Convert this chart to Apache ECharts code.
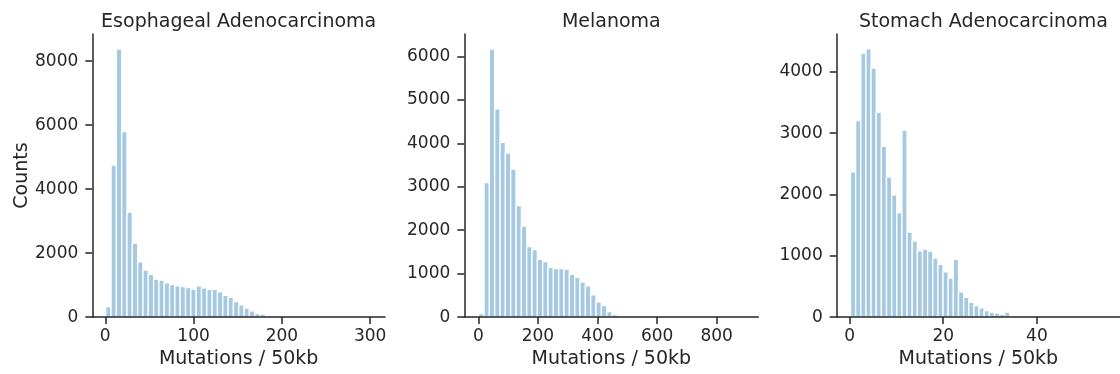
<!DOCTYPE html>
<html>
<head>
<meta charset="utf-8">
<script src="https://cdn.jsdelivr.net/npm/echarts@6/dist/echarts.min.js"></script>
<style>
  html, body { margin: 0; padding: 0; background: #fff; }
  #chart { width: 1120px; height: 374px; }
</style>
</head>
<body>
<div id="chart"></div>
<script>
// ---- Data ----
const panelTitles = ['Esophageal Adenocarcinoma', 'Melanoma', 'Stomach Adenocarcinoma'];
const xAxisLabel = 'Mutations / 50kb';
const yAxisLabel = 'Counts';

// Histogram bin layout (50 bins each): first edge and bin width
const escaBinStart = 0.5,  escaBinWidth = 6.026;
const melaBinStart = 1.3,  melaBinWidth = 17.9;
const stadBinStart = 0.2,  stadBinWidth = 1.098;

// Counts per bin
const escaCounts = [330, 4750, 8380, 5800, 3280, 2310, 1730, 1470, 1340, 1180,
                    1160, 1070, 1015, 975, 955, 925, 875, 975, 915, 865,
                    865, 790, 680, 615, 485, 380, 278, 195, 113, 92,
                    14, 10, 8, 6, 5, 4, 3, 3, 2, 2,
                    1, 1, 1, 1, 0, 0, 1, 0, 0, 1];
const melaCounts = [83, 3094, 6166, 4792, 4023, 3774, 3404, 2566, 2091, 1623,
                    1555, 1328, 1275, 1147, 1117, 1117, 1102, 981, 913, 808,
                    717, 513, 347, 264, 128, 60, 12, 8, 5, 4,
                    3, 2, 2, 1, 1, 1, 1, 0, 1, 0,
                    0, 1, 0, 0, 0, 1, 0, 0, 0, 1];
const stadCounts = [2369, 3203, 4305, 4374, 4059, 3337, 2786, 2283, 1995, 1701,
                    3048, 1385, 1241, 1080, 1107, 1075, 963, 861, 738, 636,
                    941, 412, 321, 241, 187, 150, 107, 80, 64, 43,
                    80, 12, 9, 7, 5, 4, 3, 3, 2, 2,
                    1, 1, 1, 1, 1, 0, 1, 0, 0, 1];

// Axis ticks
const escaXTicks = [0, 100, 200, 300];
const melaXTicks = [0, 200, 400, 600, 800];
const stadXTicks = [0, 20, 40];
const escaYTicks = [0, 2000, 4000, 6000, 8000];
const melaYTicks = [0, 1000, 2000, 3000, 4000, 5000, 6000];
const stadYTicks = [0, 1000, 2000, 3000, 4000];

// ---- Build chart ----
function toBins(start, width, counts) {
  return counts.map((c, i) => [start + i * width, start + (i + 1) * width, c]);
}

const TEXT = '#262626';
const FONT = 'DejaVu Sans';
const BAR = '#a5c9e1';
const plain = v => String(v);

const panels = [
  { bins: toBins(escaBinStart, escaBinWidth, escaCounts), xMin: -14.7, xMax: 316.8, yMax: 8852,
    xTicks: escaXTicks, yTicks: escaYTicks, left: 92.3, width: 292.7 },
  { bins: toBins(melaBinStart, melaBinWidth, melaCounts), xMin: -47, xMax: 939.6, yMax: 6514,
    xTicks: melaXTicks, yTicks: melaYTicks, left: 464.3, width: 294 },
  { bins: toBins(stadBinStart, stadBinWidth, stadCounts), xMin: -2.75, xMax: 57.75, yMax: 4616,
    xTicks: stadXTicks, yTicks: stadYTicks, left: 836.7, width: 293.4 }
];

const gridTop = 34, gridBottomY = 321.7;

const option = {
  backgroundColor: '#fff',
  animation: false,
  title: panels.map((p, i) => ({
    text: panelTitles[i],
    left: p.left + p.width / 2 - 5,
    top: 8,
    textAlign: 'center',
    textStyle: { color: TEXT, fontFamily: FONT, fontSize: 19, fontWeight: 'normal' }
  })),
  grid: panels.map(p => ({
    left: p.left, width: p.width, top: gridTop, height: gridBottomY - gridTop, containLabel: false
  })),
  xAxis: panels.map((p, i) => ({
    type: 'value', gridIndex: i, min: p.xMin, max: p.xMax, z: 5,
    name: xAxisLabel, nameLocation: 'middle', nameGap: 31,
    nameTextStyle: { color: TEXT, fontFamily: FONT, fontSize: 19, verticalAlign: 'top' },
    splitLine: { show: false },
    axisLine: { show: true, onZero: false, lineStyle: { color: TEXT, width: 1.5 } },
    axisTick: { show: true, length: 7, lineStyle: { color: TEXT, width: 1.5 }, customValues: p.xTicks },
    axisLabel: { color: TEXT, fontFamily: FONT, fontSize: 17, margin: 11, customValues: p.xTicks, formatter: plain }
  })),
  yAxis: panels.map((p, i) => ({
    type: 'value', gridIndex: i, min: 0, max: p.yMax, z: 5,
    name: i === 0 ? yAxisLabel : '', nameLocation: 'middle', nameGap: 57,
    nameTextStyle: { color: TEXT, fontFamily: FONT, fontSize: 19 },
    splitLine: { show: false },
    axisLine: { show: true, onZero: false, lineStyle: { color: TEXT, width: 1.5 } },
    axisTick: { show: true, length: 7, lineStyle: { color: TEXT, width: 1.5 }, customValues: p.yTicks },
    axisLabel: { color: TEXT, fontFamily: FONT, fontSize: 17, margin: 14, customValues: p.yTicks, formatter: plain }
  })),
  series: panels.map((p, i) => ({
    type: 'custom',
    xAxisIndex: i, yAxisIndex: i,
    clip: true,
    z: 2,
    data: p.bins,
    encode: { x: [0, 1], y: 2 },
    renderItem: function (params, api) {
      const tl = api.coord([api.value(0), api.value(2)]);
      const br = api.coord([api.value(1), 0]);
      return {
        type: 'rect',
        shape: { x: tl[0], y: tl[1], width: br[0] - tl[0], height: br[1] - tl[1] },
        style: { fill: BAR, stroke: '#ffffff', lineWidth: 1.3 }
      };
    }
  }))
};

const chart = echarts.init(document.getElementById('chart'), null, { renderer: 'canvas' });
chart.setOption(option);
</script>
</body>
</html>
